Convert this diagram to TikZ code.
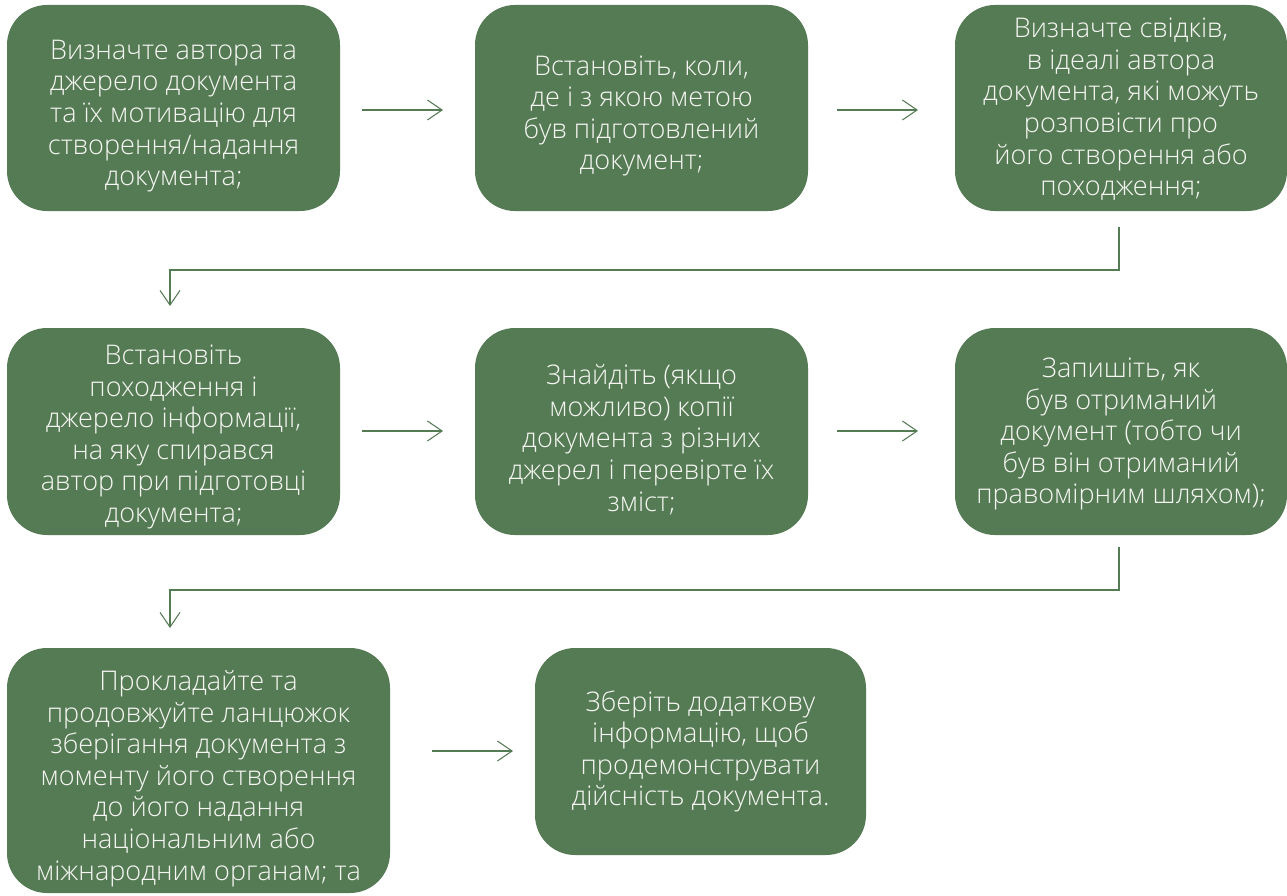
\documentclass[tikz,border=0pt]{standalone}
\usepackage{fontspec}
\setmainfont{Open Sans}[UprightFont={* Light}]
\usetikzlibrary{arrows.meta,calc}
\definecolor{boxgreen}{HTML}{557B55}
\definecolor{boxtext}{HTML}{F6F6F2}
\tikzset{
  stepbox/.style={rectangle, rounded corners=30pt, fill=boxgreen, inner sep=0pt},
  steptext/.style={text=boxtext, align=center, inner sep=0pt,
    font=\fontsize{20.3}{23.7}\selectfont},
  flow/.style={draw=boxgreen, line width=0.8pt, -{Straight Barb[length=11pt,width=15pt,line width=0.8pt]}},
}
\begin{document}
\begin{tikzpicture}[x=0.75pt,y=-0.75pt]
\useasboundingbox (0,0) rectangle (1287,895);
% row 1
\node[stepbox, minimum width=333*0.75pt, minimum height=206*0.75pt,
  label={[steptext, yshift=-6pt]center:{Визначте автора та\\джерело документа\\та їх мотивацію для\\створення/надання\\документа;}}] (b1) at (173.5,108) {};
\node[stepbox, minimum width=333*0.75pt, minimum height=206*0.75pt,
  label={[steptext, yshift=-6pt]center:{Встановіть, коли,\\де і з якою метою\\був підготовлений\\документ;}}] (b2) at (641.5,108) {};
\node[stepbox, minimum width=332*0.75pt, minimum height=206*0.75pt,
  label={[steptext, yshift=-1pt]center:{Визначте свідків,\\в ідеалі автора\\документа, які можуть\\розповісти про\\його створення або\\походження;}}] (b3) at (1121,108) {};
% row 2
\node[stepbox, minimum width=333*0.75pt, minimum height=207*0.75pt,
  label={[steptext, yshift=-4pt]center:{Встановіть\\походження і\\джерело інформації,\\на яку спирався\\автор при підготовці\\документа;}}] (b4) at (173.5,431.5) {};
\node[stepbox, minimum width=333*0.75pt, minimum height=207*0.75pt,
  label={[steptext, yshift=-6pt]center:{Знайдіть (якщо\\можливо) копії\\документа з різних\\джерел і перевірте їх\\зміст;}}] (b5) at (641.5,431.5) {};
\node[stepbox, minimum width=332*0.75pt, minimum height=207*0.75pt,
  label={[steptext, yshift=-2pt]center:{Запишіть, як\\був отриманий\\документ (тобто чи\\був він отриманий\\правомірним шляхом);}}] (b6) at (1121,431.5) {};
% row 3
\node[stepbox, minimum width=383*0.75pt, minimum height=245*0.75pt,
  label={[steptext, yshift=-6pt]center:{Прокладайте та\\продовжуйте ланцюжок\\зберігання документа з\\моменту його створення\\до його надання\\національним або\\міжнародним органам; та}}] (b7) at (198.5,770.5) {};
\node[stepbox, minimum width=331*0.75pt, minimum height=207*0.75pt,
  label={[steptext]center:{Зберіть додаткову\\інформацію, щоб\\продемонструвати\\дійсність документа.}}] (b8) at (700.5,751.5) {};
% horizontal arrows
\coordinate (a1s) at (362,110); \coordinate (a1e) at (443,110);
\coordinate (a2s) at (837,110); \coordinate (a2e) at (918,110);
\coordinate (a3s) at (362,431); \coordinate (a3e) at (443,431);
\coordinate (a4s) at (837,431); \coordinate (a4e) at (918,431);
\coordinate (a5s) at (432,751); \coordinate (a5e) at (513,751);
\draw[flow] (a1s) -- (a1e);
\draw[flow] (a2s) -- (a2e);
\draw[flow] (a3s) -- (a3e);
\draw[flow] (a4s) -- (a4e);
\draw[flow] (a5s) -- (a5e);
% elbow connectors
\coordinate (c1s) at (1119,227); \coordinate (c1e) at (170,306);
\coordinate (c2s) at (1119,547); \coordinate (c2e) at (170,628);
\draw[flow] (c1s) -- (1119,270) -- (170,270) -- (c1e);
\draw[flow] (c2s) -- (1119,590) -- (170,590) -- (c2e);
\end{tikzpicture}
\end{document}
